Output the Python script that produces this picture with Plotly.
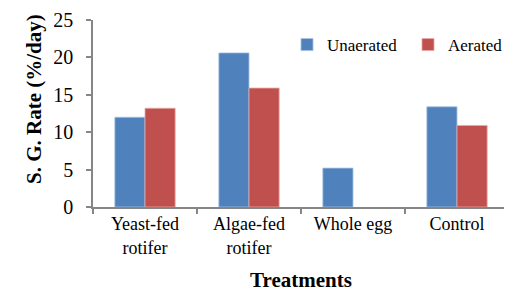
import plotly.graph_objects as go

categories = ["Yeast-fed<br>rotifer", "Algae-fed<br>rotifer", "Whole egg", "Control"]
unaerated = [12.0, 20.6, 5.2, 13.4]
aerated = [13.2, 15.9, None, 10.9]
y_ticks = [0, 5, 10, 15, 20, 25]

font = "Liberation Serif, Times New Roman, serif"

# page body has an 8px default margin; the figure is sized to fill the 512x291 window
W, H = 504, 283
L, R, T, B = 85, 3, 12, 84
PW, PH = W - L - R, H - T - B
OFF = 8

def px_x(px):
    return (px - OFF - L) / PW

def px_y(py):
    return (T + PH - (py - OFF)) / PH

fig = go.Figure()
fig.add_bar(x=categories, y=unaerated, name="Unaerated",
            marker=dict(color="#4F81BD", line=dict(color="#A9C2E2", width=0.8)))
fig.add_bar(x=categories, y=aerated, name="Aerated",
            marker=dict(color="#C0504D", line=dict(color="#E8A8A6", width=0.8)))

fig.update_layout(
    width=W, height=H,
    margin=dict(l=L, r=R, t=T, b=B, autoexpand=False),
    paper_bgcolor="white", plot_bgcolor="white",
    barmode="group", bargap=0.42, bargroupgap=0,
    font=dict(family=font, size=18, color="black"),
    showlegend=True,
    legend=dict(orientation="h", x=px_x(529), y=px_y(45), xanchor="right", yanchor="middle",
                font=dict(family=font, size=17), bgcolor="rgba(0,0,0,0)",
                itemwidth=30, entrywidth=76, tracegroupgap=0),
    xaxis=dict(showline=True, linecolor="#868686", linewidth=1.5,
               ticks="outside", tickson="boundaries", ticklen=5, tickcolor="#868686",
               tickwidth=1.5, automargin=False,
               tickfont=dict(family=font, size=18)),
    yaxis=dict(range=[0, 25], tickvals=y_ticks, showline=True, linecolor="#868686", linewidth=1.5,
               ticks="outside", ticklen=5, tickcolor="#868686", tickwidth=1.5,
               showgrid=False, zeroline=False, automargin=False, ticklabelstandoff=9,
               tickfont=dict(family=font, size=20)),
    annotations=[
        dict(text="<b>S. G. Rate (%/day)</b>", textangle=-90,
             xref="paper", yref="paper", x=px_x(34), y=px_y(99),
             xanchor="center", yanchor="middle", showarrow=False,
             font=dict(family=font, size=21)),
        dict(text="<b>Treatments</b>",
             xref="paper", yref="paper", x=0.5, y=px_y(280),
             xanchor="center", yanchor="middle", showarrow=False,
             font=dict(family=font, size=21)),
    ],
)

fig.write_html("out.html")
